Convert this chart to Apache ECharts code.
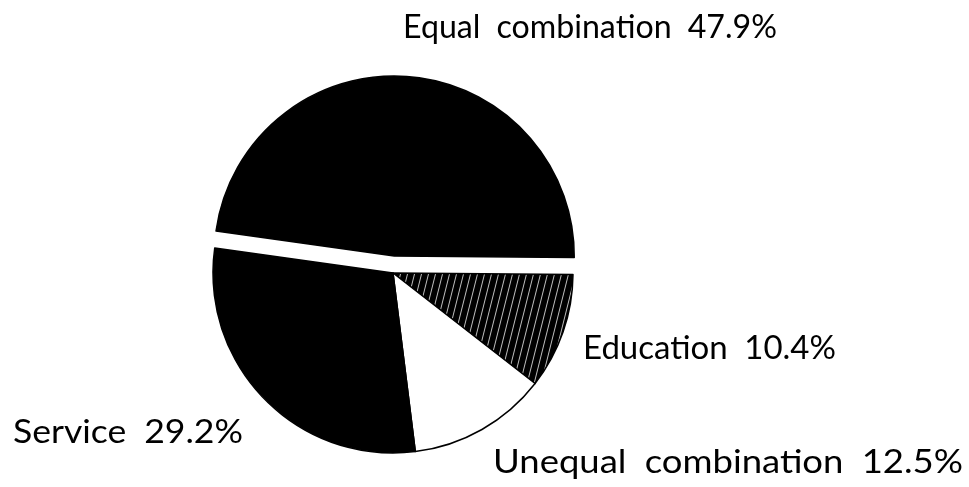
<!DOCTYPE html>
<html>
<head>
<meta charset="utf-8">
<title>Pie</title>
<script src="https://cdn.jsdelivr.net/npm/echarts@6/dist/echarts.min.js"></script>
<style>
  html, body { margin: 0; padding: 0; background: #fff; }
  #chart { width: 969px; height: 487px; }
</style>
</head>
<body>
<div id="chart"></div>
<script>
// Shares of each category, in percent
const categories = ['Equal combination', 'Education', 'Unequal combination', 'Service'];
const shares = [47.9, 10.4, 12.5, 29.2];

// Label layout: left edge, right edge, cap top
const labelSpots = [
  [403, 777, 17],
  [583, 836, 338],
  [493, 963, 452],
  [13, 243, 422]
];

// Black fill with thin, slightly slanted white hatching
function hatchPattern() {
  const w = 7, h = 28;
  const c = document.createElement('canvas');
  c.width = w; c.height = h;
  const g = c.getContext('2d');
  g.fillStyle = '#000';
  g.fillRect(0, 0, w, h);
  g.strokeStyle = 'rgba(255,255,255,0.75)';
  g.lineWidth = 1;
  for (const dx of [-w, 0, w]) {
    g.beginPath();
    g.moveTo(dx, h);
    g.lineTo(dx + w, 0);
    g.stroke();
  }
  return c;
}

const fills = ['#000', { image: hatchPattern(), repeat: 'repeat' }, '#fff', '#000'];
const FONT = 32;
const FONT_CSS = FONT + 'px Lato';

// Text measuring, used to stretch each label across its span
const measureCtx = document.createElement('canvas').getContext('2d');
measureCtx.font = FONT_CSS;

// Each label reads "<name>  <share>%", with wide word spacing
const labels = categories.map((name, i) => {
  const [left, right, top] = labelSpots[i];
  const text = (name + ' ' + shares[i].toFixed(1) + '%').replace(/ /g, '\u2002');
  const w = measureCtx.measureText(text).width;
  return {
    type: 'text',
    x: left,
    y: top - 5,
    scaleX: (right - left) / w,
    silent: true,
    style: {
      text,
      fill: '#000',
      font: FONT_CSS,
      textVerticalAlign: 'top',
      textAlign: 'left'
    }
  };
});

const chart = echarts.init(document.getElementById('chart'), null, { renderer: 'canvas' });

chart.setOption({
  animation: false,
  graphic: labels,
  series: [{
    type: 'pie',
    center: [393, 273],
    radius: 180,
    startAngle: 172,
    clockwise: true,
    selectedMode: 'single',
    selectedOffset: 17,
    label: { show: false },
    labelLine: { show: false },
    itemStyle: { borderColor: '#000', borderWidth: 1.5 },
    emphasis: { disabled: true },
    data: categories.map((name, i) => ({
      name,
      value: shares[i],
      selected: i === 0,
      itemStyle: { color: fills[i] }
    }))
  }]
});
</script>
</body>
</html>
